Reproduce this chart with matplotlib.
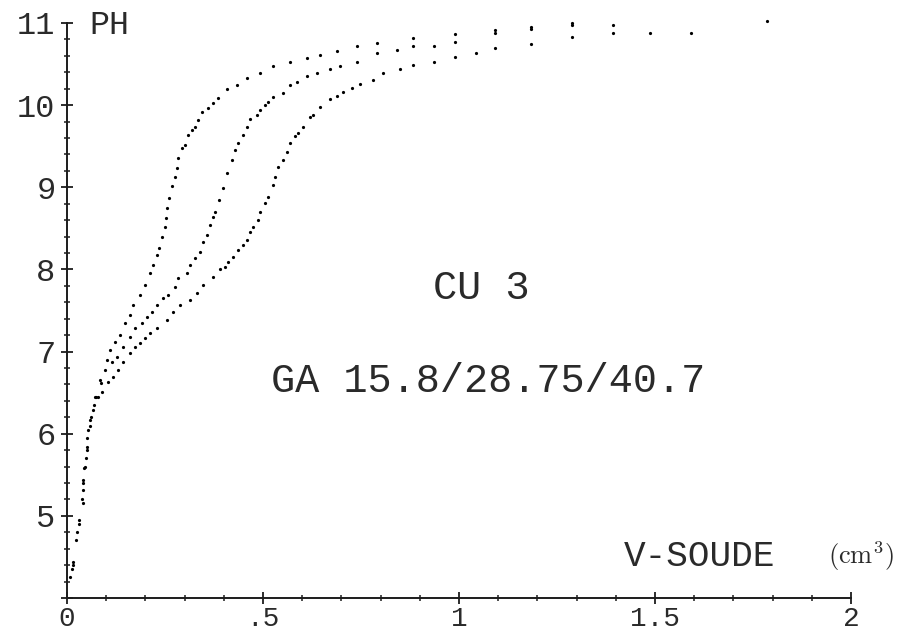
import numpy as np
import matplotlib
matplotlib.use('Agg')
import matplotlib.pyplot as plt
from matplotlib.ticker import MultipleLocator, FuncFormatter

plt.rcParams['mathtext.fontset'] = 'cm'
MONO = 'Liberation Mono'
INK = '#1c1c1c'
TXT = '#2a2a2a'

# titration curves: volume of NaOH (cm3) vs pH
v1 = [0.008, 0.015, 0.023, 0.031, 0.041, 0.041, 0.041, 0.043, 0.048, 0.051,
      0.054, 0.059, 0.066, 0.071, 0.084, 0.102, 0.110, 0.122, 0.135, 0.148,
      0.161, 0.168, 0.186, 0.199, 0.212, 0.219, 0.230, 0.235, 0.242, 0.250,
      0.253, 0.255, 0.260, 0.268, 0.276, 0.281, 0.283, 0.293, 0.301, 0.309,
      0.319, 0.327, 0.334, 0.344, 0.360, 0.372, 0.385, 0.408, 0.434, 0.459,
      0.492, 0.526, 0.569, 0.612, 0.645, 0.689, 0.740, 0.791, 0.883, 0.990,
      1.092, 1.184, 1.288, 1.786]
ph1 = [4.26, 4.44, 4.71, 4.95, 5.16, 5.32, 5.44, 5.58, 5.71, 5.84,
       6.05, 6.17, 6.29, 6.45, 6.66, 6.90, 7.02, 7.12, 7.20, 7.35,
       7.45, 7.57, 7.69, 7.81, 7.96, 8.06, 8.18, 8.26, 8.40, 8.52,
       8.63, 8.75, 8.87, 9.01, 9.13, 9.24, 9.36, 9.48, 9.52, 9.64,
       9.70, 9.74, 9.82, 9.92, 9.97, 10.03, 10.09, 10.20, 10.25, 10.33,
       10.39, 10.48, 10.53, 10.58, 10.61, 10.66, 10.72, 10.76, 10.82, 10.87,
       10.91, 10.95, 11.00, 11.03]

v2 = [0.012, 0.025, 0.038, 0.045, 0.052, 0.062, 0.075, 0.086, 0.097, 0.115,
      0.128, 0.143, 0.161, 0.173, 0.191, 0.204, 0.217, 0.230, 0.245, 0.258,
      0.276, 0.283, 0.306, 0.314, 0.327, 0.339, 0.347, 0.357, 0.365, 0.372,
      0.378, 0.388, 0.398, 0.408, 0.421, 0.429, 0.436, 0.449, 0.459, 0.467,
      0.485, 0.492, 0.505, 0.513, 0.526, 0.551, 0.569, 0.587, 0.612, 0.638,
      0.671, 0.696, 0.740, 0.791, 0.842, 0.883, 0.936, 0.990, 1.092, 1.184,
      1.288, 1.393]
ph2 = [4.35, 4.80, 5.20, 5.60, 5.95, 6.20, 6.45, 6.62, 6.78, 6.87,
       6.94, 7.06, 7.18, 7.29, 7.35, 7.42, 7.48, 7.57, 7.65, 7.69,
       7.79, 7.90, 7.96, 8.06, 8.14, 8.21, 8.34, 8.42, 8.54, 8.64,
       8.70, 8.85, 8.99, 9.18, 9.33, 9.46, 9.54, 9.64, 9.74, 9.83,
       9.88, 9.94, 10.00, 10.04, 10.10, 10.15, 10.25, 10.28, 10.35, 10.39,
       10.44, 10.48, 10.53, 10.63, 10.67, 10.72, 10.72, 10.77, 10.88, 10.93,
       10.98, 10.97]

v3 = [0.015, 0.030, 0.042, 0.050, 0.058, 0.070, 0.080, 0.089, 0.105, 0.117,
      0.130, 0.143, 0.161, 0.173, 0.186, 0.199, 0.212, 0.230, 0.255, 0.270,
      0.288, 0.314, 0.332, 0.347, 0.372, 0.390, 0.403, 0.411, 0.423, 0.436,
      0.449, 0.459, 0.467, 0.474, 0.487, 0.492, 0.505, 0.513, 0.526, 0.531,
      0.538, 0.551, 0.561, 0.569, 0.582, 0.589, 0.602, 0.620, 0.628, 0.645,
      0.671, 0.689, 0.704, 0.727, 0.747, 0.781, 0.806, 0.849, 0.883, 0.936,
      0.990, 1.043, 1.092, 1.184, 1.288, 1.393, 1.487, 1.592]
ph3 = [4.40, 4.90, 5.40, 5.80, 6.10, 6.35, 6.45, 6.51, 6.63, 6.69,
       6.78, 6.87, 6.98, 7.05, 7.11, 7.17, 7.23, 7.29, 7.39, 7.48,
       7.57, 7.63, 7.71, 7.81, 7.91, 8.00, 8.03, 8.09, 8.15, 8.24,
       8.30, 8.36, 8.46, 8.52, 8.60, 8.70, 8.81, 8.88, 9.03, 9.13,
       9.25, 9.33, 9.43, 9.54, 9.62, 9.66, 9.74, 9.85, 9.88, 9.98,
       10.08, 10.11, 10.16, 10.21, 10.26, 10.31, 10.39, 10.44, 10.49, 10.53,
       10.59, 10.64, 10.69, 10.74, 10.83, 10.88, 10.88, 10.88]

x_ticks = [0, 0.5, 1, 1.5, 2]
x_tick_labels = ['0', '.5', '1', '1.5', '2']

title_1 = 'CU 3'
title_2 = 'GA 15.8/28.75/40.7'

fig = plt.figure(figsize=(9.04, 6.35), dpi=100)
ax = fig.add_axes([67 / 904, 37 / 635, 784 / 904, 575 / 635])

for v, ph in [(v1, ph1), (v2, ph2), (v3, ph3)]:
    ax.plot(v, ph, linestyle='none', marker='o', ms=2.3, mfc='k', mec='none',
            clip_on=False)

ax.set_xlim(0, 2)
ax.set_ylim(4, 11)
for side in ('top', 'right'):
    ax.spines[side].set_visible(False)
for side in ('left', 'bottom'):
    ax.spines[side].set_linewidth(1.4)
    ax.spines[side].set_color(INK)

ax.set_xticks(x_ticks)
ax.set_xticklabels(x_tick_labels)
ax.xaxis.set_minor_locator(MultipleLocator(0.1))
ax.yaxis.set_major_locator(MultipleLocator(1))
ax.yaxis.set_minor_locator(MultipleLocator(0.2))
ax.yaxis.set_major_formatter(FuncFormatter(lambda y, _: '' if y < 4.5 else f'{y:.0f}'))
ax.tick_params(which='major', direction='inout', length=8.5, width=1.3,
               color=INK, labelcolor=TXT)
ax.tick_params(which='minor', direction='inout', length=5, width=1.1, color=INK)
ax.tick_params(axis='x', which='major', labelsize=20, pad=1.5)
ax.tick_params(axis='y', which='major', labelsize=23, pad=4)
for lab in ax.get_xticklabels() + ax.get_yticklabels():
    lab.set_family(MONO)

fig.text(89 / 904, 1 - 26 / 635, 'PH', ha='left', va='center',
         fontsize=24, family=MONO, color=TXT)
fig.text(481 / 904, 1 - 288 / 635, title_1, ha='center', va='center',
         fontsize=29, family=MONO, color=TXT)
fig.text(488 / 904, 1 - 381 / 635, title_2, ha='center', va='center',
         fontsize=29, family=MONO, color=TXT)
fig.text(624 / 904, 1 - 556 / 635, 'V-SOUDE', ha='left', va='center',
         fontsize=26, family=MONO, color=TXT)
fig.text(828 / 904, 1 - 556 / 635, r'$(\mathrm{cm}^3)$', ha='left', va='center',
         fontsize=19, color=TXT)

fig.savefig('out.png', dpi=100)
